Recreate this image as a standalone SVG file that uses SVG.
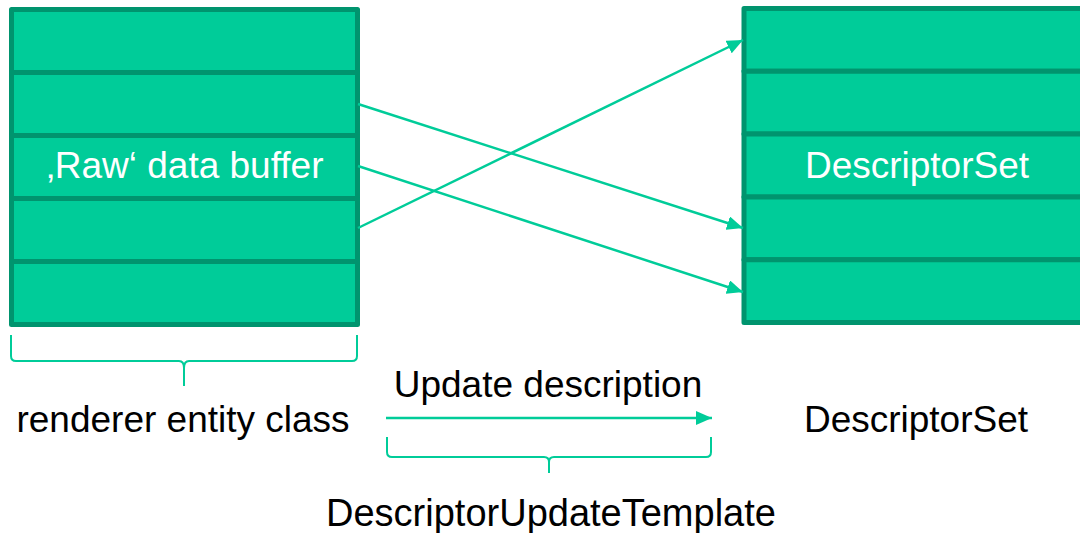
<svg xmlns="http://www.w3.org/2000/svg" width="1080" height="533" viewBox="0 0 1080 533">
<style>
.cell{fill:#00CC99;stroke:#00946E;stroke-width:5;stroke-linejoin:round}
.lbl{font-family:"Liberation Sans",Arial,sans-serif;font-size:37px;text-anchor:middle}
.in{fill:#FFFFFF}
.out{fill:#000000}
.conn{stroke:#00CC99;stroke-width:2.5;fill:none}
.brace{stroke:#00CC99;stroke-width:2;fill:none}
</style>
<defs>
<marker id="ah" markerWidth="16" markerHeight="14" refX="16" refY="7" orient="auto" markerUnits="userSpaceOnUse">
<path d="M0,0 L16,7 L0,14 Z" fill="#00CC99"/>
</marker>
</defs>
<rect width="1080" height="533" fill="#FFFFFF"/>
<g id="raw-buffer">
<rect class="cell" x="11.5" y="9.5" width="346" height="63"/>
<rect class="cell" x="11.5" y="72.5" width="346" height="63"/>
<rect class="cell" x="11.5" y="135.5" width="346" height="63"/>
<rect class="cell" x="11.5" y="198.5" width="346" height="63"/>
<rect class="cell" x="11.5" y="261.5" width="346" height="63"/>
<text class="lbl in" x="185" y="178">‚Raw‘ data buffer</text>
</g>
<g id="descriptor-set">
<rect class="cell" x="744" y="8.5" width="350" height="62.8"/>
<rect class="cell" x="744" y="71.3" width="350" height="62.8"/>
<rect class="cell" x="744" y="134.1" width="350" height="62.8"/>
<rect class="cell" x="744" y="196.9" width="350" height="62.8"/>
<rect class="cell" x="744" y="259.7" width="350" height="62.8"/>
<text class="lbl in" x="917" y="178">DescriptorSet</text>
</g>
<g id="connectors">
<line class="conn" x1="358" y1="104" x2="743" y2="228" marker-end="url(#ah)"/>
<line class="conn" x1="358" y1="166" x2="743" y2="292" marker-end="url(#ah)"/>
<line class="conn" x1="358" y1="228" x2="743" y2="40" marker-end="url(#ah)"/>
<line class="conn" x1="386" y1="418" x2="712" y2="418" marker-end="url(#ah)"/>
</g>
<g id="brace-left">
<path class="brace" d="M11,335 V356 Q11,361 16,361 H179 Q184,361 184,368 V386 M184,368 Q184,361 189,361 H352 Q357,361 357,356 V335"/>
<text class="lbl out" x="183" y="432">renderer entity class</text>
</g>
<g id="update-description">
<text class="lbl out" x="548" y="397">Update description</text>
</g>
<g id="brace-bottom">
<path class="brace" d="M387,437 V452 Q387,457 392,457 H544 Q549,457 549,462 V473 M549,462 Q549,457 554,457 H706 Q711,457 711,452 V437"/>
<text class="lbl out" x="551" y="526" style="font-size:38px">DescriptorUpdateTemplate</text>
</g>
<g id="descriptor-set-label">
<text class="lbl out" x="916" y="432">DescriptorSet</text>
</g>
</svg>
